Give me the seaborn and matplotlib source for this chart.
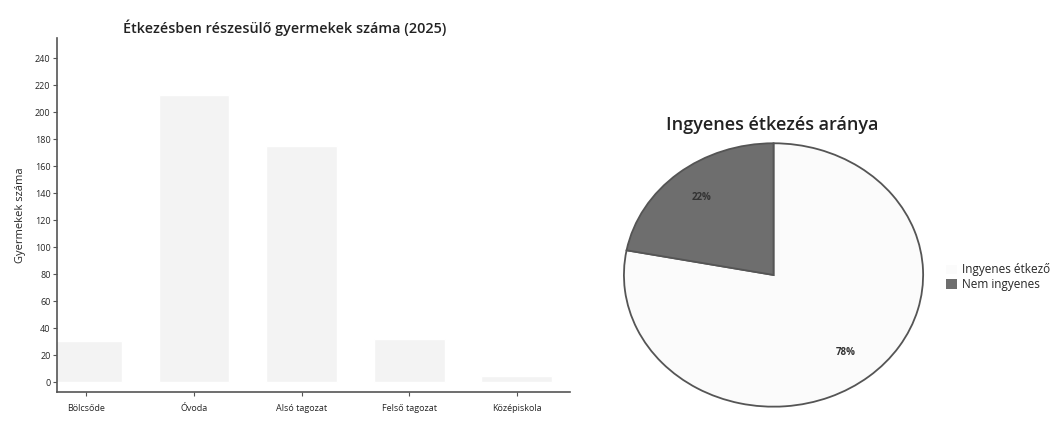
import pandas as pd
import numpy as np
import seaborn as sns
import matplotlib.pyplot as plt

# bar chart data
categories = ["Bölcsőde", "Óvoda", "Alsó tagozat", "Felső tagozat", "Középiskola"]
children = [31, 213, 175, 32, 5]
yticks = [0, 20, 40, 60, 80, 100, 120, 140, 160, 180, 200, 220, 240]

# pie data
pie_labels = ["Ingyenes étkező", "Nem ingyenes"]
pie_values = [78, 22]

sns.set_style("white")
plt.rcParams['font.family'] = ['Open Sans', 'DejaVu Sans']

fig = plt.figure(figsize=(10.64, 4.25), dpi=100)

df = pd.DataFrame({"Kategória": categories, "Gyermekek száma": children})

ax = fig.add_axes([0.054, 0.078, 0.482, 0.833])
sns.barplot(data=df, x="Kategória", y="Gyermekek száma", color="#f3f3f3",
            width=0.66, saturation=1, ax=ax)
ax.set_xlim(-0.27, 4.5)
ax.set_ylim(-7, 255)
ax.set_yticks(yticks)
ax.set_xlabel("")
ax.set_ylabel("Gyermekek száma", fontsize=8, labelpad=6)
ax.tick_params(axis="both", labelsize=6.5, length=3, width=0.8, color="#555555",
               left=True, bottom=True, pad=2)
ax.tick_params(axis="x", pad=6)
for s in ["top", "right"]:
    ax.spines[s].set_visible(False)
for s in ["left", "bottom"]:
    ax.spines[s].set_color("#555555")
    ax.spines[s].set_linewidth(1.2)
fig.text(0.268, 0.915, "Étkezésben részesülő gyermekek száma (2025)",
         ha="center", va="bottom", fontsize=10.4, fontweight="semibold", color="#222222")

# pie chart
ax2 = fig.add_axes([0.585, 0.04, 0.284, 0.626])
wedges, texts, autotexts = ax2.pie(
    pie_values, colors=["#fbfbfb", "#6e6e6e"], startangle=90, counterclock=False,
    autopct="%d%%", pctdistance=0.76,
    wedgeprops={"edgecolor": "#555555", "linewidth": 1.3},
    textprops={"fontsize": 7, "color": "#333333", "fontweight": "bold"})
ax2.set_aspect("auto")
ax2.set_xlim(-1.01, 1.01)
ax2.set_ylim(-1.01, 1.01)
fig.text(0.726, 0.685, "Ingyenes étkezés aránya", ha="center", va="bottom",
         fontsize=13, fontweight="semibold", color="#222222")
leg = fig.legend(wedges, pie_labels, loc="upper left", bbox_to_anchor=(0.889, 0.38),
                 frameon=False, fontsize=8.5, handlelength=0.9, handleheight=0.9,
                 handletextpad=0.5, labelspacing=0.15, borderaxespad=0, borderpad=0)
for h in leg.legend_handles:
    h.set_edgecolor("none")

plt.savefig("out.png", dpi=100)
